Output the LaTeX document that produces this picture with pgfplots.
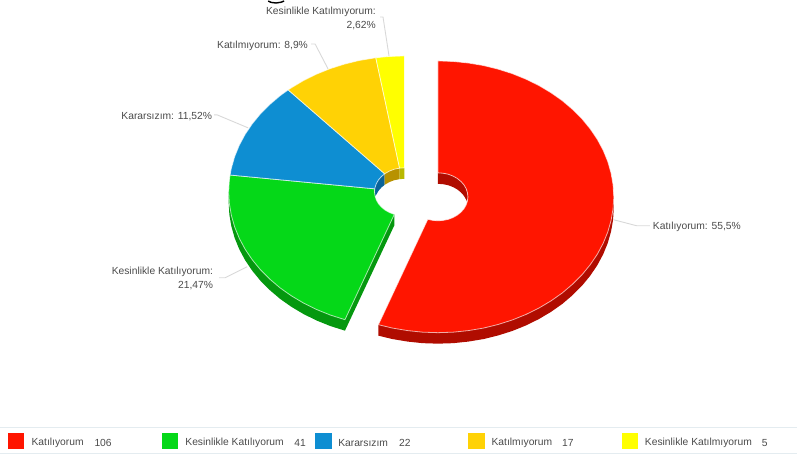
\documentclass[border=0pt]{standalone}
\usepackage{fontspec}
\setmainfont{Liberation Sans}
\usepackage{pgfplots}
\pgfplotsset{compat=1.18}
\definecolor{cRed}{HTML}{FF1500}
\definecolor{cGreen}{HTML}{05D818}
\definecolor{cBlue}{HTML}{0E8ED2}
\definecolor{cOrange}{HTML}{FFD205}
\definecolor{cYellow}{HTML}{FFFF00}
\definecolor{wRed}{HTML}{B00C00}
\definecolor{wGreen}{HTML}{05980F}
\definecolor{wBlue}{HTML}{0A6399}
\definecolor{wOrange}{HTML}{B89200}
\definecolor{wYellow}{HTML}{B8B800}
\definecolor{lbl}{HTML}{4A4A4A}
\definecolor{leader}{HTML}{D8D8D8}
\definecolor{legline}{HTML}{E4ECF0}
\pgfplotsset{
  face/.style={draw=white,line width=0.8pt,line join=round,draw opacity=0.65},
  side/.style={draw=none},
  lead/.style={draw=leader,line width=0.9pt,no marks},
}
\tikzset{lab/.style={font=\fontsize{10.3}{12}\selectfont,text=lbl,inner sep=0pt}}
\begin{document}
\begin{tikzpicture}
\begin{axis}[
    hide axis,
    scale only axis,
    width=797pt,
    height=456pt,
    xmin=0,xmax=797,
    ymin=0,ymax=456,
    y dir=reverse,
    clip=false,
    no marks,
]
% invisible frame, keeps the page at the full size
\addplot[draw=none,forget plot] coordinates {(0,0) (797,456)};

% bit of the cut off title
\addplot[draw=black,line width=1.4pt] coordinates {(268,1) (271,2.4) (276,3) (281,2.2) (284,1)};

% side walls
\addplot[side,fill=wRed] coordinates {(614,197) (614,208) (613.3,219.9) (611.3,231.6) (608,243.2) (603.4,254.5) (597.5,265.5) (590.4,276) (582.2,286) (572.8,295.4) (562.5,304.2) (551.1,312.2) (539,319.4) (526,325.8) (512.4,331.3) (498.2,335.8) (483.6,339.4) (468.6,341.9) (453.3,343.5) (438,344) (422.7,343.5) (407.4,341.9) (392.4,339.4) (378.4,336) (378.4,325) (438,300)} -- cycle;
\addplot[side,fill=wGreen] coordinates {(228.5,192) (228.5,203) (229.2,214.9) (231.2,226.6) (234.5,238.2) (239.1,249.5) (245,260.5) (252.1,271) (260.3,281) (269.7,290.4) (280,299.2) (291.4,307.2) (303.5,314.4) (316.5,320.8) (330.1,326.3) (344.9,331) (394.3,225.6) (394.3,214.6)} -- cycle;

% inner walls of the hole
\addplot[side,fill=wRed] coordinates {(438,173) (443.2,173.4) (448.3,174.4) (453,176.2) (457.3,178.6) (461,181.6) (464,185) (466.2,188.8) (467.5,192.8) (468,197) (467.3,202.5) (466.2,199.8) (464,196) (461,192.6) (457.3,189.6) (453,187.2) (448.3,185.4) (443.2,184.4) (438,184)} -- cycle;
\addplot[side,fill=wBlue] coordinates {(374.7,189) (375,187.8) (376.3,183.8) (378.5,180) (381.5,176.6) (384.7,174) (384.7,185) (381.5,187.6) (378.5,191) (376.3,194.8) (375.2,196)} -- cycle;
\addplot[side,fill=wOrange] coordinates {(384.7,174) (385.2,173.6) (389.5,171.2) (394.2,169.4) (399.6,168.3) (399.6,179.3) (394.2,180.4) (389.5,182.2) (385.2,184.6) (384.7,185)} -- cycle;
\addplot[side,fill=wYellow] coordinates {(399.6,168.3) (404.5,168) (404.5,179) (399.6,179.3)} -- cycle;

% top faces, 55.5 / 21.47 / 11.52 / 8.9 / 2.62 percent
\addplot[face,fill=cRed] coordinates {(438,61) (453.3,61.5) (468.6,63.1) (483.6,65.6) (498.2,69.2) (512.4,73.7) (526,79.2) (539,85.6) (551.1,92.8) (562.5,100.8) (572.8,109.6) (582.2,119) (590.4,129) (597.5,139.5) (603.4,150.5) (608,161.8) (611.3,173.4) (613.3,185.1) (614,197) (613.3,208.9) (611.3,220.6) (608,232.2) (603.4,243.5) (597.5,254.5) (590.4,265) (582.2,275) (572.8,284.4) (562.5,293.2) (551.1,301.2) (539,308.4) (526,314.8) (512.4,320.3) (498.2,324.8) (483.6,328.4) (468.6,330.9) (453.3,332.5) (438,333) (422.7,332.5) (407.4,330.9) (392.4,328.4) (378.4,325)
 (427.8,219.6) (432.8,220.6) (438,221) (443.2,220.6) (448.3,219.6) (453,217.8) (457.3,215.4) (461,212.4) (464,209) (466.2,205.2) (467.5,201.2) (468,197) (467.5,192.8) (466.2,188.8) (464,185) (461,181.6) (457.3,178.6) (453,176.2) (448.3,174.4) (443.2,173.4) (438,173)} -- cycle;
\addplot[face,fill=cGreen] coordinates {(344.9,320) (330.1,315.3) (316.5,309.8) (303.5,303.4) (291.4,296.2) (280,288.2) (269.7,279.4) (260.3,270) (252.1,260) (245,249.5) (239.1,238.5) (234.5,227.2) (231.2,215.6) (229.2,203.9) (228.5,192) (229.2,180.1) (229.9,175.2)
 (374.7,189) (374.5,192) (375,196.2) (376.3,200.2) (378.5,204) (381.5,207.4) (385.2,210.4) (389.5,212.8) (394.3,214.6)} -- cycle;
\addplot[face,fill=cBlue] coordinates {(229.9,175.2) (231.2,168.4) (234.5,156.8) (239.1,145.5) (245,134.5) (252.1,124) (260.3,114) (269.7,104.6) (280,95.8) (288.1,90)
 (384.7,174) (381.5,176.6) (378.5,180) (376.3,183.8) (375,187.8) (374.7,189)} -- cycle;
\addplot[face,fill=cOrange] coordinates {(288.1,90) (291.4,87.8) (303.5,80.6) (316.5,74.2) (330.1,68.7) (344.3,64.2) (358.9,60.6) (375.8,57.8)
 (399.6,168.3) (394.2,169.4) (389.5,171.2) (385.2,173.6) (384.7,174)} -- cycle;
\addplot[face,fill=cYellow] coordinates {(375.8,57.8) (389.2,56.5) (404.5,56) (404.5,168) (399.6,168.3)} -- cycle;

% leader lines
\addplot[lead] coordinates {(614,220) (637,226) (650,226)};
\addplot[lead] coordinates {(247,267) (225,278) (219,278)};
\addplot[lead] coordinates {(248,128) (217,115) (214,115)};
\addplot[lead] coordinates {(328,69) (315,44) (311,44)};
\addplot[lead] coordinates {(389,56) (383,17) (380,17)};

% slice labels
\node[lab,anchor=west] at (axis cs:653,227) {Katılıyorum: 55,5\%};
\node[lab,anchor=east] at (axis cs:213,272) {Kesinlikle Katılıyorum:};
\node[lab,anchor=east] at (axis cs:213,286) {21,47\%};
\node[lab,anchor=east] at (axis cs:212,117) {Kararsızım: 11,52\%};
\node[lab,anchor=east] at (axis cs:308,46) {Katılmıyorum: 8,9\%};
\node[lab,anchor=east] at (axis cs:376,12) {Kesinlikle Katılmıyorum:};
\node[lab,anchor=east] at (axis cs:376,26) {2,62\%};

% legend strip
\addplot[draw=legline,line width=0.8pt] coordinates {(0,428) (797,428)};
\addplot[draw=legline,line width=0.8pt] coordinates {(0,454) (797,454)};
\addplot[draw=none,fill=cRed] coordinates {(8,433) (24,433) (24,449) (8,449)} -- cycle;
\addplot[draw=none,fill=cGreen] coordinates {(161.5,433) (178,433) (178,449) (161.5,449)} -- cycle;
\addplot[draw=none,fill=cBlue] coordinates {(315,433) (331.5,433) (331.5,449) (315,449)} -- cycle;
\addplot[draw=none,fill=cOrange] coordinates {(468.5,433) (485,433) (485,449) (468.5,449)} -- cycle;
\addplot[draw=none,fill=cYellow] coordinates {(622,433) (638,433) (638,449) (622,449)} -- cycle;
\node[lab,anchor=west] at (axis cs:31,443) {Katılıyorum};
\node[lab,anchor=west] at (axis cs:94,443) {106};
\node[lab,anchor=west] at (axis cs:185,443) {Kesinlikle Katılıyorum};
\node[lab,anchor=west] at (axis cs:294,443) {41};
\node[lab,anchor=west] at (axis cs:338,443) {Kararsızım};
\node[lab,anchor=west] at (axis cs:399,443) {22};
\node[lab,anchor=west] at (axis cs:491.5,443) {Katılmıyorum};
\node[lab,anchor=west] at (axis cs:562,443) {17};
\node[lab,anchor=west] at (axis cs:645,443) {Kesinlikle Katılmıyorum};
\node[lab,anchor=west] at (axis cs:762,443) {5};
\end{axis}
\end{tikzpicture}
\end{document}
